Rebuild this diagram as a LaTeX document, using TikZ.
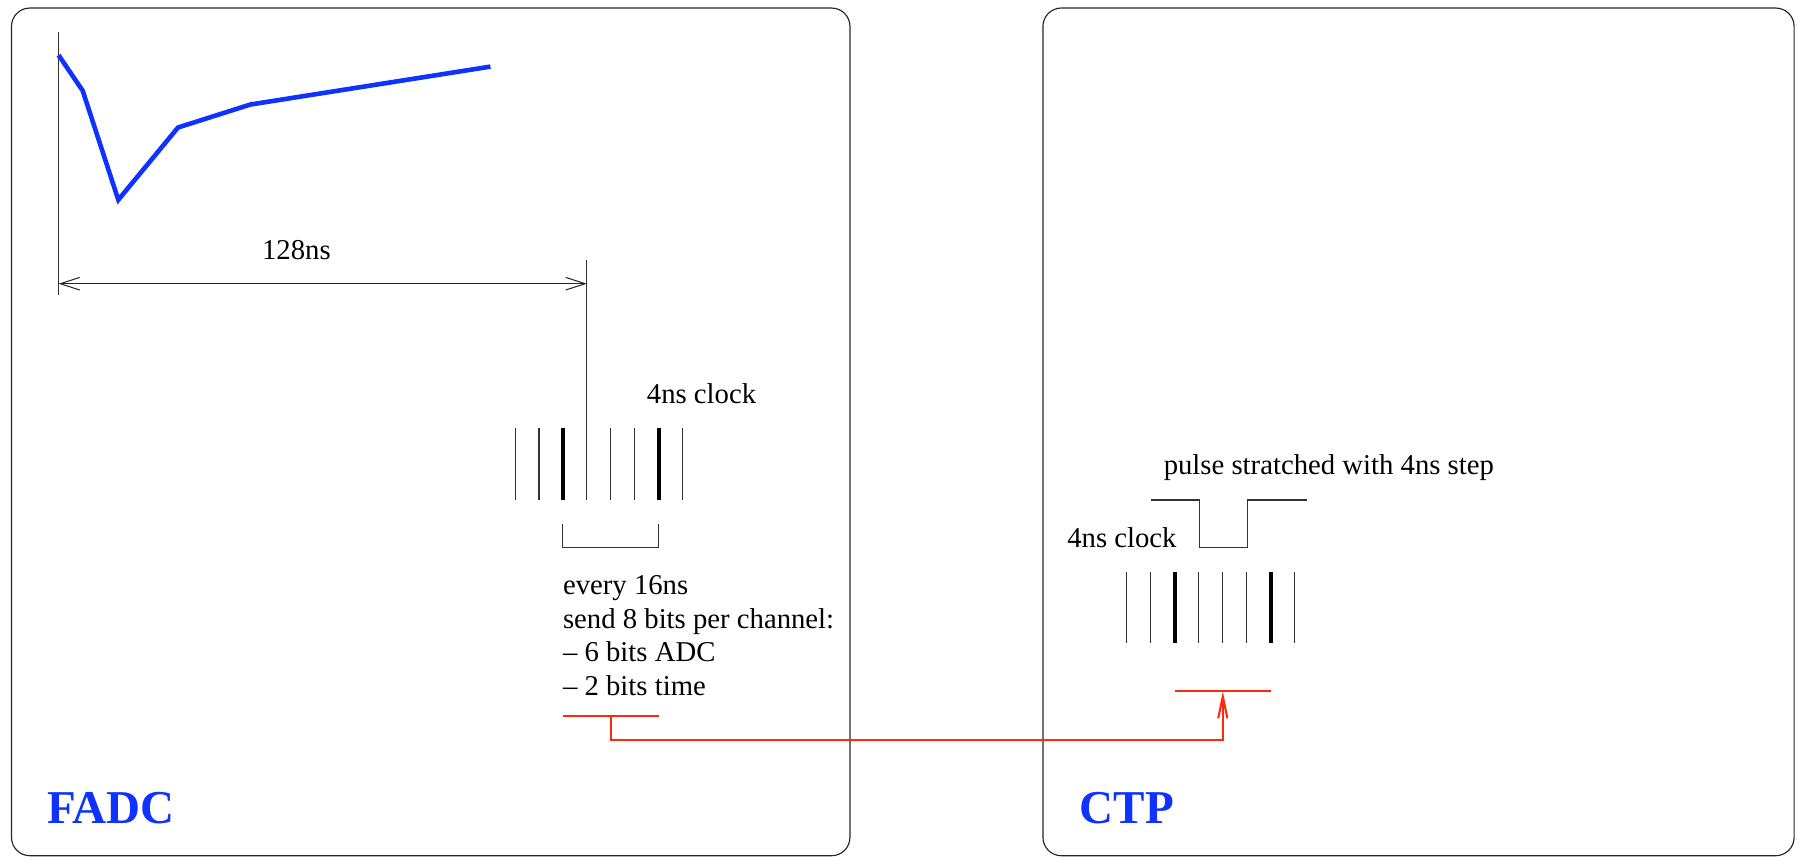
\documentclass[tikz,border=0pt]{standalone}
\usepackage{fontspec}
\setmainfont{Liberation Serif}
\usetikzlibrary{arrows.meta,calc}
\definecolor{sigblue}{RGB}{16,50,255}
\definecolor{linkred}{RGB}{255,40,10}
\begin{document}
\begin{tikzpicture}[x=1pt,y=-1pt,
  frame/.style={draw=black!85, line width=1pt, rounded corners=16pt},
  thintick/.style={draw=black!80, line width=0.9pt},
  thicktick/.style={draw=black, line width=3.3pt},
  txt/.style={font=\fontsize{25}{29}\selectfont, inner sep=0pt, anchor=base west},
  title/.style={font=\fontsize{41}{41}\selectfont\bfseries, text=sigblue, inner sep=0pt, anchor=base west},
  signal/.style={draw=sigblue, line width=4pt},
  dimline/.style={draw=black!85, line width=0.9pt,
    {Straight Barb[length=17pt,width=11pt]}-{Straight Barb[length=17pt,width=11pt]}},
  link/.style={draw=linkred, line width=1.8pt},
]
\useasboundingbox (0,0) rectangle (1568,746);

% the two boards
\draw[frame] (10,7) rectangle (740,745);
\draw[frame] (908,7) rectangle (1562,745);
\node[title] (fadc) at (41,717) {FADC};
\node[title] (ctp) at (940,717) {CTP};

% FADC: sampled pulse and its time window
\coordinate (axtop) at (51,28);
\coordinate (axbot) at (51,257);
\draw[thintick] (axtop) -- (axbot);
\draw[signal] (51,48) -- (72,79) -- (103,174) -- (155,111) -- (218,91) -- (427,58);
\node[txt] (win) at (228,226) {128ns};

% FADC: 4ns clock ticks
\foreach \i in {0,...,7} {
  \coordinate (f\i) at (448.4+20.85*\i,435);
}
\foreach \i in {0,1,4,5,7} { \draw[thintick] (f\i) -- ++(0,-62.5); }
\foreach \i in {2,6} { \draw[thicktick] (f\i) -- ++(0,-62.5); }
\coordinate (ftop) at (f3 |- 0,226);
\draw[thintick] (f3) -- (ftop);
\draw[dimline] (axbot |- 0,247) -- (f3 |- 0,247);
\node[txt] (fclk) at (563,351) {4ns clock};

% 16ns bracket
\draw[thintick] (f2 |- 0,456) -- (f2 |- 0,477) -- (f6 |- 0,477) -- (f6 |- 0,456);

\node[txt] (l1) at (490,518) {every 16ns};
\node[txt] (l2) at (490,547) {send 8 bits per channel:};
\node[txt] (l3) at (490,576) {-- 6 bits ADC};
\node[txt] (l4) at (490,605.5) {-- 2 bits time};

% FADC output line
\coordinate (txl) at (f2 |- 0,623);
\coordinate (txr) at (f6 |- 0,623);
\coordinate (txm) at ($(txl)!0.5!(txr)$);
\draw[link] (txl) -- (txr);

% CTP: pulse stretched
\node[txt] (pulse) at (1013,413.5) {pulse stratched with 4ns step};
\draw[thintick] (1002,435.3) -- (1043.9,435.3) -- (1043.9,476.8) -- (1085.7,476.8)
  -- (1085.7,435.3) -- (1137.6,435.3);
\node[txt] (cclk) at (929,476.5) {4ns clock};

% CTP: 4ns clock ticks
\foreach \i in {0,...,7} {
  \coordinate (c\i) at (981+20.9*\i,560);
}
\foreach \i in {0,1,3,4,5,7} { \draw[thintick] (c\i) -- ++(0,-61.7); }
\foreach \i in {2,6} { \draw[thicktick] (c\i) -- ++(0,-61.7); }

% CTP input line
\coordinate (rxl) at (c2 |- 0,602);
\coordinate (rxr) at (c6 |- 0,602);
\coordinate (rxm) at ($(rxl)!0.5!(rxr)$);
\draw[link] (rxl) -- (rxr);

% link FADC -> CTP
\draw[link, -{Straight Barb[length=19pt,width=8pt]}] (txm) -- ++(0,21) -| (rxm);
\end{tikzpicture}
\end{document}
